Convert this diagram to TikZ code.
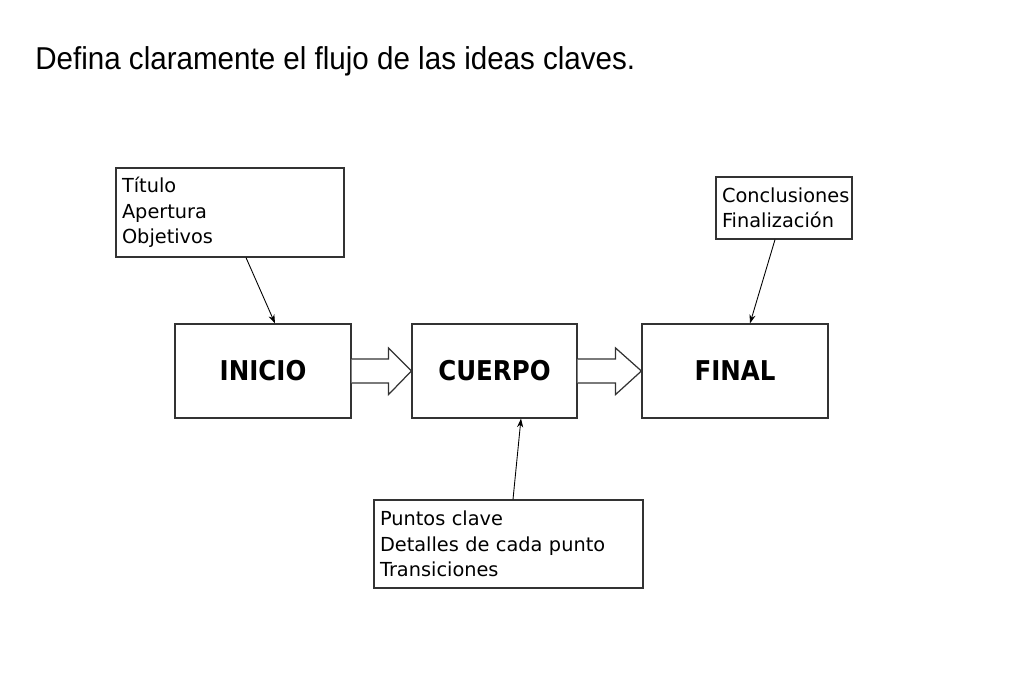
\documentclass[tikz,border=0pt]{standalone}
\usepackage{fontspec}
\setmainfont{DejaVu Sans}
\newfontfamily\titlefont[FakeStretch=0.935]{Liberation Sans}
\newfontfamily\boxfont[FakeStretch=0.9]{DejaVu Sans}
\usetikzlibrary{arrows.meta}
\tikzset{
    LB/.style ={rectangle, draw=black!80, line width=0.7pt, inner xsep=0.12cm,
                align=left, font=\fontsize{11}{14.5}\selectfont},
    BB/.style ={rectangle, draw=black!80, line width=0.7pt, minimum width=#1,
                minimum height=1.88cm, font=\fontsize{15.5}{17}\boxfont\bfseries},
    AR/.style ={-{Stealth[length=5pt,width=3.5pt]}, line width=0.5pt},
    BA/.style ={draw=black!80, line width=0.7pt, fill=white}}

\begin{document}
\begin{tikzpicture}[x=0.02cm, y=-0.02cm]
    \useasboundingbox (0,0) rectangle (1024,683);
        \node[anchor=base west, inner sep=0pt, font=\fontsize{18}{20}\titlefont] (tit) at (35,69)
            {Defina claramente el flujo de las ideas claves.};
        \node[LB, text width=4.32cm, minimum height=1.78cm] (1) at (230,212.5)
            {Título\\Apertura\\Objetivos};
        \node[LB, text width=2.48cm, minimum height=1.24cm] (2) at (784,208)
            {Conclusiones\\Finalización};
        \node[BB=3.52cm] (3) at (263,371) {INICIO};
        \node[BB=3.30cm] (4) at (494.5,371) {CUERPO};
        \node[BB=3.72cm] (5) at (735,371) {FINAL};
        \node[LB, text width=5.14cm, minimum height=1.76cm] (6) at (508.5,544)
            {Puntos clave\\Detalles de cada punto\\Transiciones};
        % flechas gruesas
        \draw[BA] ([yshift=0.24cm]3.east) -- ++(0.74cm,0) -- ++(0,0.22cm) -- (4.west)
            -- ([yshift=-0.47cm,xshift=0.74cm]3.east) -- ++(0,0.23cm) -- ([yshift=-0.24cm]3.east);
        \draw[BA] ([yshift=0.24cm]4.east) -- ++(0.76cm,0) -- ++(0,0.22cm) -- (5.west)
            -- ([yshift=-0.47cm,xshift=0.76cm]4.east) -- ++(0,0.23cm) -- ([yshift=-0.24cm]4.east);
        % flechas finas
        \draw[AR] ([xshift=0.32cm]1.south) -- ([xshift=0.24cm]3.north);
        \draw[AR] ([xshift=-0.18cm]2.south) -- ([xshift=0.30cm]5.north);
        \draw[AR] ([xshift=0.09cm]6.north) -- ([xshift=0.53cm]4.south);
    \end{tikzpicture}
\end{document}
